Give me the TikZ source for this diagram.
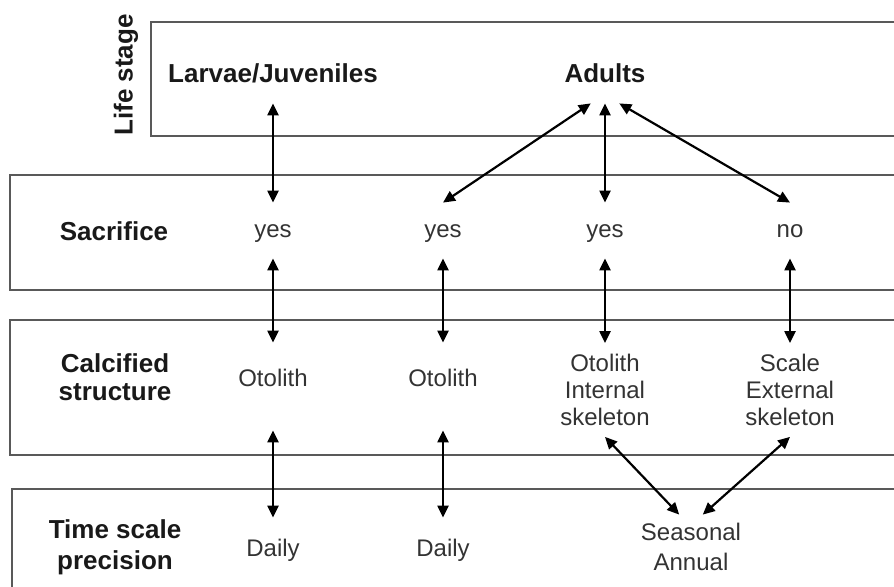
\documentclass[tikz,border=0pt]{standalone}
\usepackage{fontspec}
\setmainfont{Liberation Sans}
\usetikzlibrary{arrows.meta}
\tikzset{
  % Open bands (no right edge)
  bandline/.style={draw=black!65, line width=0.8pt},
  % Row titles
  rowlabel/.style={font=\fontsize{13}{14}\selectfont\bfseries, align=center, inner sep=0pt, text=black!90},
  % Entries in the rows
  cell/.style={font=\fontsize{12}{13.7}\selectfont, inner sep=0pt, text=black!80},
  stagecell/.style={rowlabel, anchor=base, text height=10pt, text depth=10pt},
  sacrcell/.style={cell, anchor=base, text height=17.5pt, text depth=10pt},
  structcell/.style={cell, anchor=base, text height=22pt, text depth=21.5pt},
  dailycell/.style={cell, anchor=base, text height=19pt},
  linkarrow/.style={{Triangle[length=6pt,width=5.5pt]}-{Triangle[length=6pt,width=5.5pt]}, line width=1.1pt}
}
\begin{document}
\begin{tikzpicture}[x=0.5pt, y=-0.5pt]
  \useasboundingbox (0,0) rectangle (894,587);

  % Bands
  \draw[bandline] (894,22) -- (151,22) -- (151,136) -- (894,136);
  \draw[bandline] (894,175) -- (10,175) -- (10,290) -- (894,290);
  \draw[bandline] (894,320) -- (10,320) -- (10,455) -- (894,455);
  \draw[bandline] (894,489) -- (12,489) -- (12,600);

  % Row titles
  \node[rowlabel, rotate=90] (lifestage) at (126,75) {Life stage};
  \node[rowlabel] (sacrifice) at (114,231) {Sacrifice};
  \node[rowlabel] (calcified) at (115,377) {Calcified\\structure};
  \node[rowlabel, font=\fontsize{13}{15.5}\selectfont\bfseries] (timescale) at (115,547) {Time scale\\precision};

  % Life stage
  \node[stagecell] (larvae) at (273,83) {Larvae/Juveniles};
  \node[stagecell] (adults) at (605,83) {Adults};

  % Sacrifice
  \node[sacrcell] (yes1) at (273,238) {yes};
  \node[sacrcell] (yes2) at (443,238) {yes};
  \node[sacrcell] (yes3) at (605,238) {yes};
  \node[sacrcell] (no) at (790,238) {no};

  % Calcified structure
  \node[structcell] (oto1) at (273,387) {Otolith};
  \node[structcell] (oto2) at (443,387) {Otolith};
  \node[cell, align=center, minimum height=46.5pt] (oto3) at (605,390) {Otolith\\Internal\\skeleton};
  \node[cell, align=center, minimum height=46.5pt] (scale) at (790,390) {Scale\\External\\skeleton};

  % Time scale precision
  \node[dailycell] (daily1) at (273,556) {Daily};
  \node[dailycell] (daily2) at (443,556) {Daily};
  \node[cell, align=center, font=\fontsize{12}{15.4}\selectfont, minimum height=32pt] (season) at (691,547) {Seasonal\\Annual};

  % Arrows
  \draw[linkarrow] (larvae) -- (yes1);
  \draw[linkarrow] (yes1) -- (oto1);
  \draw[linkarrow] (oto1) -- (daily1);
  \draw[linkarrow] (yes2) -- (oto2);
  \draw[linkarrow] (oto2) -- (daily2);
  \draw[linkarrow] (adults.-125) -- (yes2.north);
  \draw[linkarrow] (adults) -- (yes3);
  \draw[linkarrow] (adults.-55) -- (no.north);
  \draw[linkarrow] (yes3) -- (oto3);
  \draw[linkarrow] (no) -- (scale);
  \draw[linkarrow] (oto3.south) -- (season.110);
  \draw[linkarrow] (scale.south) -- (season.70);
\end{tikzpicture}
\end{document}
